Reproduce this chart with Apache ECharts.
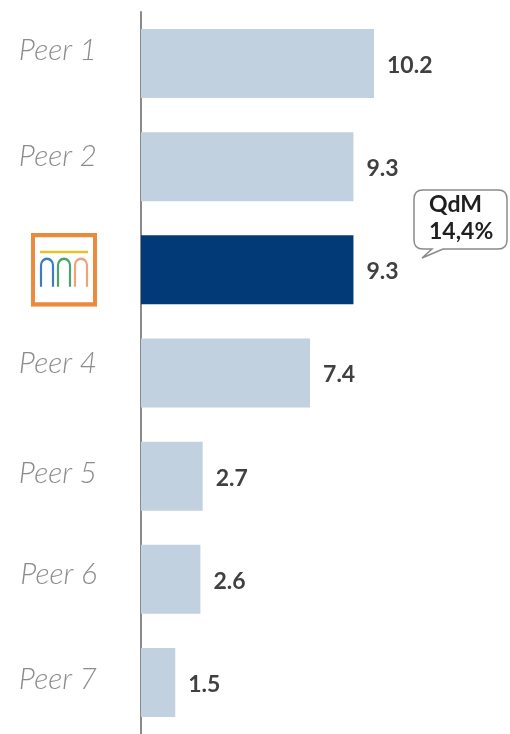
<!DOCTYPE html>
<html>
<head>
<meta charset="utf-8">
<script src="https://cdn.jsdelivr.net/npm/echarts@6/dist/echarts.min.js"></script>
<style>
html,body{margin:0;padding:0;background:#fff;}
#main{width:510px;height:734px;}
</style>
</head>
<body>
<div id="main"></div>
<script>
// categories (the 3rd one is the bank logo)
var categories = ['Peer 1', 'Peer 2', 'LOGO', 'Peer 4', 'Peer 5', 'Peer 6', 'Peer 7'];
var values = [10.2, 9.3, 9.3, 7.4, 2.7, 2.6, 1.5];
var highlightIndex = 2;
var calloutText = ['QdM', '14,4%'];

// décalage vertical des libellés (px, vers le haut)
var labelShift = [13, 10, 4, 10, 3, 5, 3];

// logo svg
var logoSvg = '<svg xmlns="http://www.w3.org/2000/svg" width="66" height="66" viewBox="0 0 66 66">' +
	'<rect x="2" y="2" width="62" height="62" fill="#fff" stroke="#ea8a3c" stroke-width="4"/>' +
	'<line x1="9" y1="17" x2="57" y2="17" stroke="#e5c22c" stroke-width="2.2"/>' +
	'<path d="M10 48 V29 a6 6 0 0 1 12 0 V48" fill="none" stroke="#3c7dbf" stroke-width="2.2"/>' +
	'<path d="M27 48 V29 a6 6 0 0 1 12 0 V48" fill="none" stroke="#4aa46c" stroke-width="2.2"/>' +
	'<path d="M44 48 V29 a6 6 0 0 1 12 0 V48" fill="none" stroke="#eca478" stroke-width="2.2"/>' +
	'</svg>';
var logoUri = 'data:image/svg+xml;charset=utf-8,' + encodeURIComponent(logoSvg);

// bulle QdM
var bubbleSvg = '<svg xmlns="http://www.w3.org/2000/svg" width="96" height="72" viewBox="0 0 96 72">' +
	'<path d="M10 1 H85 Q94 1 94 10 V51 Q94 60 85 60 H30 L9 69 L19 60 H10 Q1 60 1 51 V10 Q1 1 10 1 Z" fill="#fff" stroke="#8a8a8a" stroke-width="1.5"/>' +
	'</svg>';
var bubbleUri = 'data:image/svg+xml;charset=utf-8,' + encodeURIComponent(bubbleSvg);

var chart = echarts.init(document.getElementById('main'));

var barData = values.map(function(v, i){
	return {
		value: v,
		itemStyle: { color: i === highlightIndex ? '#023a78' : '#c2d1df' }
	};
});

// styles riches : un par catégorie pour le décalage
var richStyles = {};
categories.forEach(function(c, i){
	var s = labelShift[i];
	if (c === 'LOGO') {
		richStyles['s' + i] = {
			height: 66,
			width: 66,
			padding: [0, 0, 2 * s, 0],
			backgroundColor: { image: logoUri }
		};
	} else {
		richStyles['s' + i] = {
			fontFamily: 'Lato',
			fontStyle: 'italic',
			fontWeight: 300,
			fontSize: 30,
			color: '#8c8c8c',
			padding: [0, 0, 2 * s, 0]
		};
	}
});

var option = {
	animation: false,
	grid: { left: 141, right: 3.5, top: 12, bottom: -6 },
	xAxis: {
		type: 'value',
		min: 0,
		max: 16,
		show: false
	},
	yAxis: {
		type: 'category',
		data: categories,
		inverse: true,
		axisTick: { show: false },
		axisLine: { show: true, lineStyle: { color: '#8a8a8a', width: 2 } },
		axisLabel: {
			margin: 44,
			fontFamily: 'Lato',
			fontStyle: 'italic',
			fontWeight: 300,
			fontSize: 30,
			color: '#8c8c8c',
			formatter: function(v, i){
				return v === 'LOGO' ? '{s' + i + '|}' : '{s' + i + '|' + v + '}';
			},
			rich: richStyles
		}
	},
	series: [
		{
			type: 'bar',
			data: barData,
			barWidth: 69,
			label: {
				show: true,
				position: 'right',
				distance: 13,
				offset: [0, 2],
				fontFamily: 'Lato',
				fontWeight: 'bold',
				fontSize: 23,
				color: '#404040'
			}
		}
	],
	graphic: [
		{
			type: 'image',
			left: 413,
			top: 189,
			style: { image: bubbleUri, width: 96, height: 72 }
		},
		{
			type: 'text',
			left: 429,
			top: 191,
			style: {
				text: calloutText.join('\n'),
				align: 'center',
				fontFamily: 'Lato',
				fontWeight: 'bold',
				fontSize: 23,
				lineHeight: 27,
				fill: '#1f1f1f'
			}
		}
	]
};
chart.setOption(option);
</script>
</body>
</html>
